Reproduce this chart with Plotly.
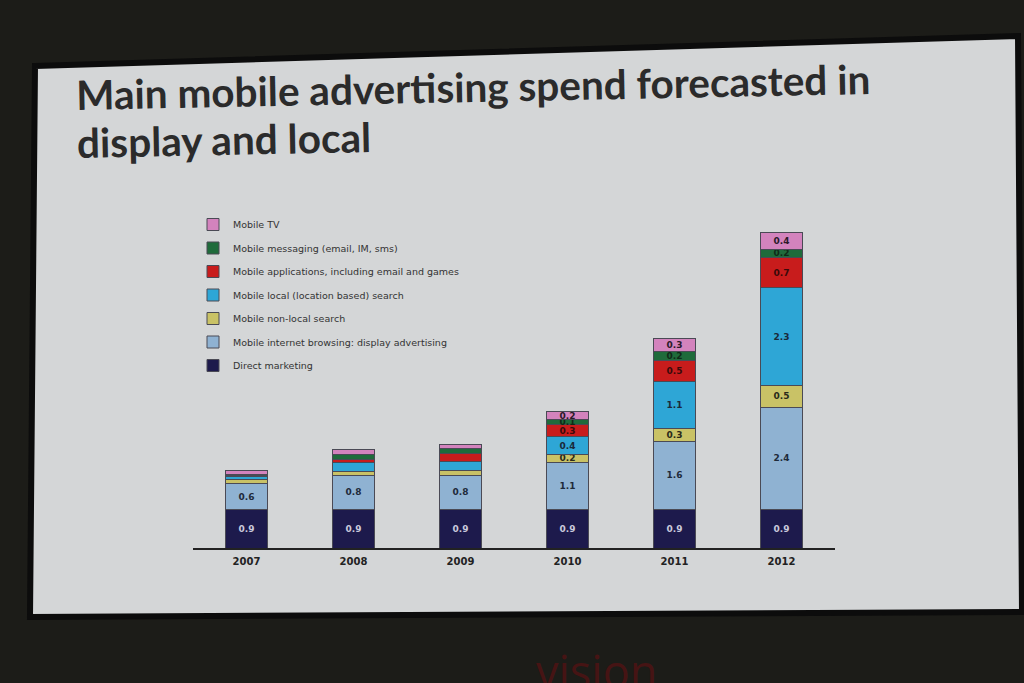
import plotly.graph_objects as go

years = ["2007", "2008", "2009", "2010", "2011", "2012"]
series_names = [
    "Direct marketing",
    "Mobile internet browsing: display advertising",
    "Mobile non-local search",
    "Mobile local (location based) search",
    "Mobile applications, including email and games",
    "Mobile messaging (email, IM, sms)",
    "Mobile TV",
]
direct_marketing = [0.9, 0.9, 0.9, 0.9, 0.9, 0.9]
display_adv = [0.6, 0.8, 0.8, 1.1, 1.6, 2.4]
nonlocal_search = [0.1, 0.1, 0.12, 0.2, 0.3, 0.5]
local_search = [0.08, 0.2, 0.2, 0.4, 1.1, 2.3]
applications = [0.02, 0.08, 0.2, 0.3, 0.5, 0.7]
messaging = [0.02, 0.12, 0.1, 0.1, 0.2, 0.2]
mobile_tv = [0.1, 0.1, 0.1, 0.2, 0.3, 0.4]

# labels shown on the slide (blank where the slide shows none)
labels_direct = ["0.9", "0.9", "0.9", "0.9", "0.9", "0.9"]
labels_display = ["0.6", "0.8", "0.8", "1.1", "1.6", "2.4"]
labels_nonlocal = ["", "", "", "0.2", "0.3", "0.5"]
labels_local = ["", "", "", "0.4", "1.1", "2.3"]
labels_apps = ["", "", "", "0.3", "0.5", "0.7"]
labels_msg = ["", "", "", "0.1", "0.2", "0.2"]
labels_tv = ["", "", "", "0.2", "0.3", "0.4"]

values = [direct_marketing, display_adv, nonlocal_search, local_search,
          applications, messaging, mobile_tv]
labels = [labels_direct, labels_display, labels_nonlocal, labels_local,
          labels_apps, labels_msg, labels_tv]
colors = ["#1d1a4c", "#8fb2d2", "#c9c266", "#2ea6d6", "#c81c1c", "#1f6b3b", "#d383bd"]
text_colors = ["#c9c9dc", "#1e2a3a", "#2a2a1a", "#1a2a3a", "#3a0a0a", "#0f2a18", "#2a1a28"]

fig = go.Figure()
n = len(series_names)
for i, (name, v, lab, c, tc) in enumerate(zip(series_names, values, labels, colors, text_colors)):
    fig.add_trace(go.Bar(
        x=years, y=v, name=name, text=lab,
        textposition="inside", insidetextanchor="middle", constraintext="none",
        textangle=0,
        textfont=dict(family="DejaVu Sans", size=9, color=tc, weight="bold"),
        marker=dict(color=c, line=dict(color="#4a4a55", width=1)),
        width=0.4, legendgroup=name, legendrank=100 * (n - i), hoverinfo="skip",
    ))

# plot area: x 193..835, y 200..548
L, R, T, B = 193, 835, 200, 548
W, H = 1024, 683
def px(x):
    return (x - L) / (R - L)
def py(y):
    return (B - y) / (B - T)

slide_path = "M {} {} L {} {} L {} {} L {} {} Z".format(
    px(35), py(66), px(1018), py(36), px(1022), py(612), px(30), py(617))

fig.update_layout(
    width=W, height=H,
    margin=dict(l=L, r=W - R, t=T, b=H - B),
    paper_bgcolor="#1c1c18",
    plot_bgcolor="rgba(0,0,0,0)",
    barmode="stack",
    bargap=0.6,
    shapes=[
        dict(type="path", xref="paper", yref="paper", path=slide_path,
             fillcolor="#d4d6d7", line=dict(color="#0c0c0c", width=6), layer="below"),
    ],
    annotations=[
        dict(text="Main mobile advertising spend forecasted in",
             xref="paper", yref="paper", x=px(74), y=py(52), xanchor="left", yanchor="top",
             align="left", showarrow=False, textangle=-1.15,
             font=dict(family="Lato", size=40.5, color="#2b2b2b", weight="bold")),
        dict(text="display and local",
             xref="paper", yref="paper", x=px(74), y=py(110), xanchor="left", yanchor="top",
             align="left", showarrow=False, textangle=-1.15,
             font=dict(family="Lato", size=40.5, color="#2b2b2b", weight="bold")),
        dict(text="vision", xref="paper", yref="paper", x=px(596), y=py(703),
             xanchor="center", yanchor="bottom", showarrow=False,
             font=dict(family="Open Sans", size=45, color="#461414")),
    ],
    legend=dict(
        x=px(193), y=py(210), xanchor="left", yanchor="top",
        traceorder="grouped", tracegroupgap=4.5,
        bgcolor="rgba(0,0,0,0)",
        font=dict(family="DejaVu Sans", size=9.5, color="#333333"),
        itemwidth=30,
    ),
    showlegend=True,
)
fig.update_xaxes(showline=True, linecolor="#222222", linewidth=1.5, ticks="",
                 tickfont=dict(family="DejaVu Sans", size=10, color="#222222", weight="bold"),
                 ticklabelstandoff=3,
                 showgrid=False, range=[-0.5, 5.5], fixedrange=True)
fig.update_yaxes(range=[0, 8.15], visible=False, showgrid=False, zeroline=False)

fig.write_html("out.html", config={"displayModeBar": False},
               post_script="document.body.style.margin='0px';document.body.style.background='#1c1c18';")
